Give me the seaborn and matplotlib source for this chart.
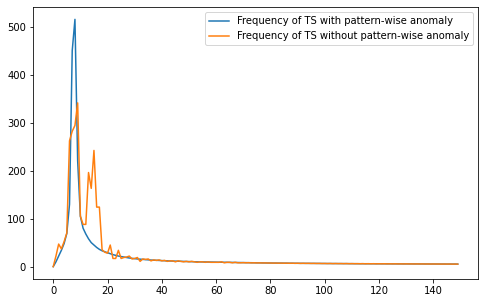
import numpy as np
import pandas as pd
import matplotlib
matplotlib.use("Agg")
import matplotlib.pyplot as plt
import seaborn as sns

# frequency values, index = position 0..149
with_anomaly = [
    0, 10, 22, 34, 48, 69, 130, 450, 515, 220,
    105, 80, 68, 58, 50, 45, 40, 36, 33, 31,
    29, 27, 25, 23.5, 22, 21, 20, 19, 18, 17.3,
    16.6, 16, 15.5, 15, 14.5, 14.1, 13.7, 13.4, 13.1, 12.8,
    12.5, 12.2, 12, 11.8, 11.6, 11.4, 11.2, 11, 10.8, 10.6,
    10.5, 10.3, 10.2, 10, 9.9, 9.8, 9.6, 9.5, 9.4, 9.3,
    9.2, 9.1, 9, 8.9, 8.8, 8.7, 8.6, 8.5, 8.4, 8.3,
    8.2, 8.2, 8.1, 8, 7.9, 7.9, 7.8, 7.7, 7.7, 7.6,
    7.5, 7.5, 7.4, 7.4, 7.3, 7.3, 7.2, 7.1, 7.1, 7,
    7, 6.9, 6.9, 6.9, 6.8, 6.8, 6.7, 6.7, 6.6, 6.6,
    6.5, 6.5, 6.5, 6.4, 6.4, 6.4, 6.3, 6.3, 6.3, 6.2,
    6.2, 6.2, 6.1, 6.1, 6.1, 6, 6, 6, 6, 5.9,
    5.9, 5.9, 5.9, 5.8, 5.8, 5.8, 5.8, 5.7, 5.7, 5.7,
    5.7, 5.7, 5.6, 5.6, 5.6, 5.6, 5.6, 5.5, 5.5, 5.5,
    5.5, 5.5, 5.4, 5.4, 5.4, 5.4, 5.4, 5.3, 5.3, 5.3,
]
without_anomaly = [
    0, 22, 47, 37, 52, 70, 262, 282, 294, 341,
    105, 88, 88, 196, 163, 242, 124, 124, 35, 30,
    28, 45, 17, 17, 34, 17, 19, 20, 22, 16,
    17, 19, 11, 16, 15, 16, 12, 14, 13, 14,
    12, 13, 11, 12, 12, 10, 12, 11, 10, 11,
    10, 11, 10, 9, 10, 10, 9, 10, 9, 9,
    9, 9, 10, 8, 9, 9, 8, 9, 8, 8,
    8.3, 8, 8.2, 7.8, 8, 7.7, 7.9, 7.6, 7.8, 7.5,
    7.6, 7.3, 7.5, 7.2, 7.4, 7.1, 7.3, 7, 7.2, 6.9,
    7.1, 6.8, 7, 6.8, 6.9, 6.7, 6.8, 6.6, 6.7, 6.5,
    6.6, 6.4, 6.6, 6.3, 6.5, 6.3, 6.4, 6.2, 6.4, 6.1,
    6.3, 6.1, 6.2, 6, 6.2, 5.9, 6.1, 5.9, 6.1, 5.8,
    6, 5.8, 6, 5.7, 5.9, 5.7, 5.9, 5.6, 5.8, 5.6,
    5.8, 5.6, 5.7, 5.5, 5.7, 5.5, 5.7, 5.4, 5.6, 5.4,
    5.6, 5.4, 5.5, 5.3, 5.5, 5.3, 5.5, 5.2, 5.4, 5.2,
]
labels = ["Frequency of TS with pattern-wise anomaly",
          "Frequency of TS without pattern-wise anomaly"]

df = pd.DataFrame({"x": np.arange(len(with_anomaly)),
                   "with": with_anomaly,
                   "without": without_anomaly})

fig = plt.figure(figsize=(486 / 72, 303 / 72), dpi=72)
ax = fig.add_axes([33 / 486, 24 / 303, 445 / 486, 272 / 303])

sns.lineplot(data=df, x="x", y="with", ax=ax, color="C0", label=labels[0])
sns.lineplot(data=df, x="x", y="without", ax=ax, color="C1", label=labels[1])

ax.set_xlabel("")
ax.set_ylabel("")
ax.set_yticks([0, 100, 200, 300, 400, 500])
ax.legend(loc="upper right")

fig.savefig("out.png", dpi=72)
